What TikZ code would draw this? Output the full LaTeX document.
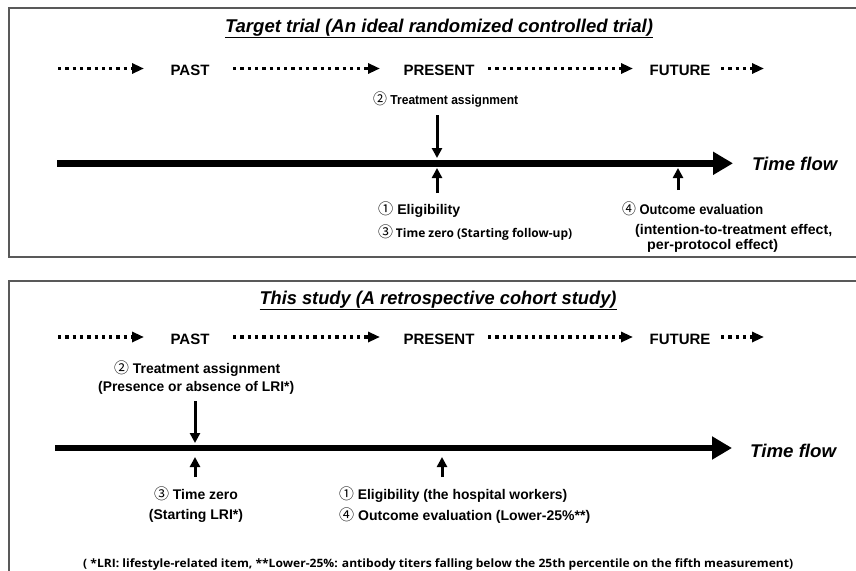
\documentclass[tikz,border=0pt]{standalone}
\usepackage{fontspec}
\setmainfont{Liberation Sans}
\newfontfamily\cjfont{Noto Sans CJK JP}
\newfontfamily\nsfont{Open Sans}
\usetikzlibrary{arrows.meta}
\newsavebox\fitbox
\newcommand\fitw[2]{\sbox\fitbox{#2}\pgfmathsetmacro\fitr{#1/(\the\wd\fitbox)}\scalebox{\fitr}[1]{\usebox\fitbox}}
\newcommand\bsz[1]{\fontsize{#1}{#1}\selectfont\bfseries}
\newcommand\circd[1]{{\cjfont\mdseries\fontsize{15}{15}\selectfont #1}}
\tikzset{
  lbl/.style={inner sep=0pt, anchor=base west},
  clbl/.style={inner sep=0pt, anchor=base},
  frame/.style={draw=black!65, line width=1.5pt},
  dotarrow/.style={line width=3.3pt, dash pattern=on 3.3pt off 4pt, -{Triangle[length=12pt,width=10pt]}},
  timeline/.style={line width=6.5pt, -{Triangle[length=20pt,width=22pt]}},
  marker/.style={line width=3pt, -{Triangle[length=10pt,width=10pt]}},
}
\begin{document}
\begin{tikzpicture}[x=1pt,y=-1pt]
\useasboundingbox (0,0) rectangle (856,570);
\draw[frame] (9,8) rectangle (870,257);
\draw[frame] (9,281) rectangle (870,600);

% ---------- top panel ----------
\node[clbl] (titleA) at (439,32) {\underline{\fitw{428}{\bsz{18.5}\itshape Target trial (An ideal randomized controlled trial)}}};

\node[clbl] (pastA) at (190,75) {\bsz{15}PAST};
\node[clbl] (presA) at (439,75) {\bsz{15}PRESENT};
\node[clbl] (futA) at (680,75) {\bsz{15}FUTURE};
\coordinate (dA1) at (58,68.5);  \coordinate (dA2) at (144,68.5);
\coordinate (dA3) at (233,68.5); \coordinate (dA4) at (380,68.5);
\coordinate (dA5) at (488,68.5); \coordinate (dA6) at (633,68.5);
\coordinate (dA7) at (721,68.5); \coordinate (dA8) at (764,68.5);
\draw[dotarrow] (dA1) -- (dA2);
\draw[dotarrow] (dA3) -- (dA4);
\draw[dotarrow] (dA5) -- (dA6);
\draw[dotarrow] (dA7) -- (dA8);

\node[lbl] (treatA) at (373,104) {\fitw{145}{\bsz{13}\circd{②} Treatment assignment}};

\coordinate (tlA0) at (57,163.3); \coordinate (tlA1) at (733,163.3);
\draw[timeline] (tlA0) -- (tlA1);
\node[lbl] (flowA) at (752,170) {\fitw{85}{\bsz{18.4}\itshape Time flow}};

\coordinate (mA0) at (437,115); \coordinate (mA1) at (437,158);
\draw[marker] (mA0) -- (mA1);
\coordinate (mA2) at (437,193); \coordinate (mA3) at (437,168);
\draw[marker] (mA2) -- (mA3);
\coordinate (mA4) at (678,190); \coordinate (mA5) at (678,168);
\draw[marker] (mA4) -- (mA5);

\node[lbl] (eligA) at (378,214) {\fitw{82}{\bsz{14}\circd{①} Eligibility}};
\node[lbl] (zeroA) at (378,237) {\fitw{194}{\circd{③} {\nsfont\bsz{12}Time zero (Starting follow-up)}}};
\node[lbl] (outA) at (622,214) {\fitw{141}{\bsz{14}\circd{④} Outcome evaluation}};
\node[lbl] (outA2) at (635,234) {\fitw{197}{\bsz{14}(intention-to-treatment effect,}};
\node[lbl] (outA3) at (647,249) {\fitw{131}{\bsz{14}per-protocol effect)}};

% ---------- bottom panel ----------
\node[clbl] (titleB) at (438,304) {\underline{\fitw{357}{\bsz{18.5}\itshape This study (A retrospective cohort study)}}};

\node[clbl] (pastB) at (190,344) {\bsz{15}PAST};
\node[clbl] (presB) at (439,344) {\bsz{15}PRESENT};
\node[clbl] (futB) at (680,344) {\bsz{15}FUTURE};
\coordinate (dB1) at (58,337);  \coordinate (dB2) at (144,337);
\coordinate (dB3) at (233,337); \coordinate (dB4) at (380,337);
\coordinate (dB5) at (488,337); \coordinate (dB6) at (633,337);
\coordinate (dB7) at (721,337); \coordinate (dB8) at (764,337);
\draw[dotarrow] (dB1) -- (dB2);
\draw[dotarrow] (dB3) -- (dB4);
\draw[dotarrow] (dB5) -- (dB6);
\draw[dotarrow] (dB7) -- (dB8);

\node[lbl] (treatB) at (114,373) {\fitw{166}{\bsz{14}\circd{②} Treatment assignment}};
\node[lbl] (treatB2) at (98,391) {\fitw{196}{\bsz{14}(Presence or absence of LRI*)}};

\coordinate (tlB0) at (55,448); \coordinate (tlB1) at (732,448);
\draw[timeline] (tlB0) -- (tlB1);
\node[lbl] (flowB) at (750,457) {\fitw{86}{\bsz{18.4}\itshape Time flow}};

\coordinate (mB0) at (195,401); \coordinate (mB1) at (195,443);
\draw[marker] (mB0) -- (mB1);
\coordinate (mB2) at (195,477); \coordinate (mB3) at (195,457);
\draw[marker] (mB2) -- (mB3);
\coordinate (mB4) at (442,477); \coordinate (mB5) at (442,457);
\draw[marker] (mB4) -- (mB5);

\node[clbl] (zeroB) at (196,499) {\bsz{14}\circd{③} Time zero};
\node[clbl] (zeroB2) at (196,519) {\bsz{14}(Starting LRI*)};
\node[lbl] (eligB) at (339,499) {\fitw{228}{\bsz{14}\circd{①} Eligibility (the hospital workers)}};
\node[lbl] (outB) at (339,520) {\fitw{251}{\bsz{14}\circd{④} Outcome evaluation (Lower-25\%**)}};

\node[lbl] (note) at (83,567) {\fitw{710}{\nsfont\bsz{11.5}( *LRI: lifestyle-related item, **Lower-25\%: antibody titers falling below the 25th percentile on the fifth measurement)}};
\end{tikzpicture}
\end{document}
